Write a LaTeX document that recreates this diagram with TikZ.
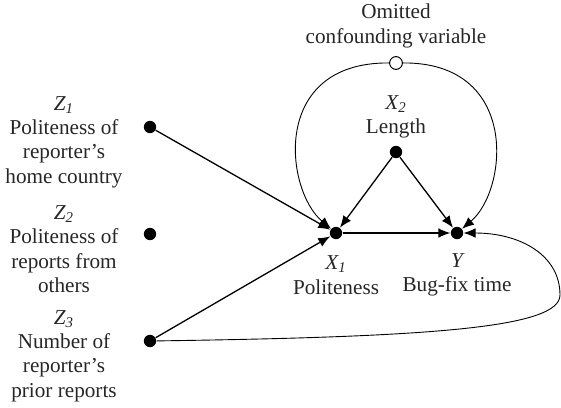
\documentclass[tikz,border=0pt]{standalone}
\usepackage{fontspec}
\setmainfont{Liberation Serif}
\usetikzlibrary{arrows.meta}
\newcommand{\vsub}[2]{{\itshape #1}\textsubscript{\itshape #2}}
\begin{document}
\begin{tikzpicture}[x=0.5pt,y=-0.5pt,
  dot/.style={circle,fill=black,inner sep=0pt,minimum size=6.2pt},
  odot/.style={circle,draw=black,fill=white,inner sep=0pt,minimum size=6.4pt,line width=0.5pt},
  lbl/.style={align=center,inner sep=0pt,font=\fontsize{10.6}{12.2}\selectfont,text=black!85},
  edgearrow/.style={line width=0.65pt,-{Latex[length=6pt,width=4.8pt]}},
  curvearrow/.style={line width=0.45pt,-{Latex[length=6pt,width=4.8pt]}}]
\useasboundingbox (0,0) rectangle (561,407);
% nodes
\node[dot] (z1) at (150,127) {};
\node[dot] (z2) at (150,234) {};
\node[dot] (z3) at (150,341) {};
\node[dot] (x1) at (336,233) {};
\node[dot] (y) at (457,233) {};
\node[dot] (x2) at (396,152) {};
\node[odot] (om) at (396,63) {};
% labels
\node[lbl] (lz1) at (64,142) {\vsub{Z}{1}\\Politeness of\\reporter’s\\home country};
\node[lbl] (lz2) at (64,249) {\vsub{Z}{2}\\Politeness of\\reports from\\others};
\node[lbl] (lz3) at (64,356) {\vsub{Z}{3}\\Number of\\reporter’s\\prior reports};
\node[lbl] (lom) at (396,26) {Omitted\\confounding variable};
\node[lbl] (lx2) at (396,117) {\vsub{X}{2}\\Length};
\node[lbl] (lx1) at (336,275) {\vsub{X}{1}\\Politeness};
\node[lbl] (ly) at (457,275) {{\itshape Y}\\Bug-fix time};
% edges
\draw[edgearrow] (z1) -- (x1);
\draw[edgearrow] (z3) -- (x1);
\draw[edgearrow] (x2) -- (x1);
\draw[edgearrow] (x2) -- (y);
\draw[edgearrow] (x1) -- (y);
\draw[curvearrow] (om) .. controls (270,62) and (285,190) .. (x1);
\draw[curvearrow] (om) .. controls (520,62) and (508,190) .. (y);
\draw[curvearrow] (z3) .. controls (430,337) and (560,328) .. (560,295)
   .. controls (560,255) and (520,233) .. (y);
\end{tikzpicture}
\end{document}
